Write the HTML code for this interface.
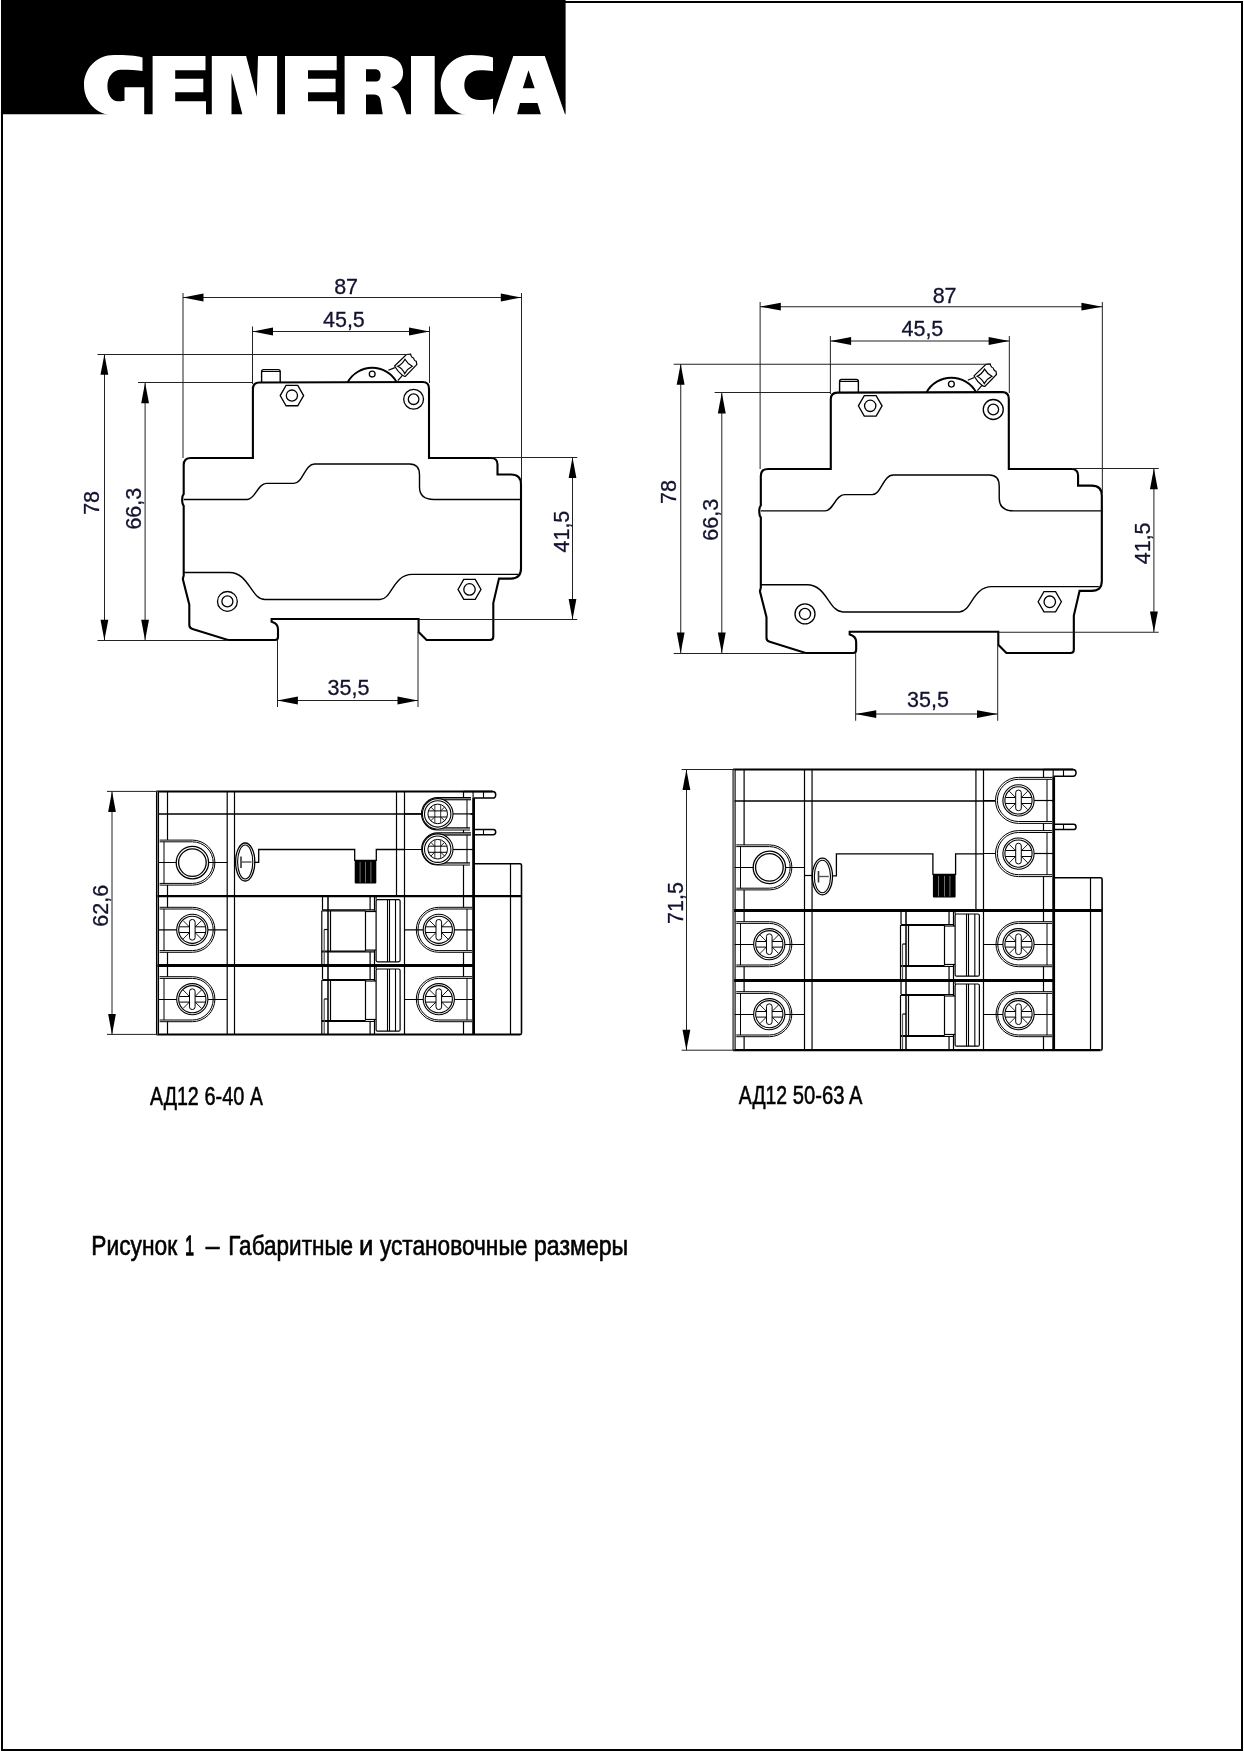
<!DOCTYPE html>
<html><head><meta charset="utf-8"><style>
html,body{margin:0;padding:0;background:#fff;}
body{width:1244px;height:1752px;overflow:hidden;position:relative;}
svg{position:absolute;left:0;top:0;will-change:transform;}
text{font-family:"Liberation Sans",sans-serif;}
</style></head><body>
<svg width="1244" height="1752" viewBox="0 0 1244 1752">

<rect x="1" y="0" width="564.6" height="114.5" fill="#000"/>
<g fill="#fff">
 <path d="M142.5,57.5 C136,55.5 126,55 114,55 C97,55 84,68 84,85 C84,102 97,115.3 114,115.3 L144.2,115.3 L144.2,87.2 L124.5,87.2 L124.5,100.8 C122,101.2 120,101.3 118,101.3 C112,101.3 107.4,95 107.4,86 C107.4,77 113,69.8 121,69.8 C130,69.8 137,70.3 142.5,71 Z"/>
 <path d="M152.6,56 L205.5,56 L205.5,70.3 L175.2,70.3 L175.2,78.8 L203.3,78.8 L203.3,92.3 L175.2,92.3 L175.2,101.3 L206,101.3 L206,116 L152.6,116 Z"/>
 <path d="M211.8,56 L246.1,56 L256.8,96.8 L258,56 L277.1,56 L277.1,116 L242.8,116 L231.5,73.1 L231.5,116 L211.8,116 Z"/>
 <path d="M285,56 L336.7,56 L336.7,70.3 L308,70.3 L308,78.8 L335.6,78.8 L335.6,92.3 L308,92.3 L308,101.3 L337,101.3 L337,116 L285,116 Z"/>
 <path d="M344.6,56 L383,56 C396,56 403.1,63 403.1,72.5 C403.1,80 399,85 391,87.2 C397,89 399.5,94 401.5,100 L407,116 L383,116 L380.5,100 C379.5,96 378,94.5 372,94.5 L366,94.5 L366,116 L344.6,116 Z M366,69.2 L366,81.6 L375,81.6 C379,81.6 380.6,79 380.6,75.4 C380.6,71.5 379,69.2 375,69.2 Z" fill-rule="evenodd"/>
 <rect x="411" y="56" width="23.7" height="60"/>
 <path d="M493,57.5 C487,55.5 480,54.9 471,54.9 C454,54.9 440.7,68 440.7,85 C440.7,102 454,115.3 471,115.3 L493,115.3 L493,98.8 C488,99.8 484,100.1 480,100.1 C470.5,100.1 464.3,94 464.3,85.2 C464.3,76.4 470.5,70.3 480,70.3 C485,70.3 489,70.6 493,71.3 Z"/>
 <path d="M493,116 L513.3,56 L544.8,56 L565.6,116 L541.4,116 L537.5,103 L520,103 L516.7,116 Z M528.5,70.3 L522.8,88.3 L534.7,88.3 Z" fill-rule="evenodd"/>
</g>
<rect x="0" y="114.5" width="600" height="10" fill="#fff"/>

<rect x="2" y="2" width="1240" height="1748" fill="none" stroke="#000" stroke-width="2"/>
<g id="side"><path d="M252.9,458 L252.9,389 Q252.9,382.6 259.3,382.5 L422.6,382.0 Q429,382.0 429,388.5 L429,458 L491,458 Q497.5,458 497.5,464.5 L497.5,474.5 L511,474.5 Q521,474.5 521,484.5 L521,568.6 Q521,578.6 511,578.6 L499,578.6 L493.3,603 L493.3,636.8 Q493.3,640 490,640 L426.6,640 L418.6,632 L418.6,619 L271.6,619 L271.6,621.7 Q278,623.5 278,629 L278,637 Q278,640 275,640 L228,640 L192.5,629 Q189.3,628 189.3,625 L189.3,604.7 L182.8,579 L183.7,575.5 L183.7,506 Q182,504 182.2,500 Q182,496 183.7,494 L183.7,465 Q183.7,458 190.9,458 Z" stroke="#000" stroke-width="2.1" fill="none" /><path d="M183.7,499.5 L247.2,499.5 C255.5,499.5 257.5,483.4 266.5,483.4 L293.8,483.4 C303,483.4 304.5,464 314.7,464 L409.8,464 Q419.5,464 419.5,475 L419.5,487 Q419.5,499.5 434,499.5 L521,499.5" stroke="#000" stroke-width="1.4" fill="none" /><path d="M183.7,572.5 L229.5,572.5 C249,572.5 251,599.5 265,599.5 L380,599.5 C392,599.5 393,574.4 412.2,574.4 L518,574.4" stroke="#000" stroke-width="1.4" fill="none" /><polygon points="303.6,395.6 297.75,405.73 286.05,405.73 280.2,395.6 286.05,385.47 297.75,385.47" fill="none" stroke="#000" stroke-width="1.3"/><circle cx="291.9" cy="395.6" r="5.6" stroke="#000" stroke-width="1.3" fill="none"/><polygon points="481,589.4 475.25,599.36 463.75,599.36 458,589.4 463.75,579.44 475.25,579.44" fill="none" stroke="#000" stroke-width="1.3"/><circle cx="469.5" cy="589.4" r="5.7" stroke="#000" stroke-width="1.3" fill="none"/><circle cx="413.6" cy="399.2" r="9.9" stroke="#000" stroke-width="1.3" fill="none"/><circle cx="413.6" cy="399.2" r="5.3" stroke="#000" stroke-width="1.3" fill="none"/><circle cx="227.4" cy="601.4" r="9.9" stroke="#000" stroke-width="1.3" fill="none"/><circle cx="227.4" cy="601.4" r="5.5" stroke="#000" stroke-width="1.3" fill="none"/><path d="M261.6,383 L261.6,371.5 Q261.6,369.6 263.6,369.6 L278.2,369.6 Q280.2,369.6 280.2,371.5 L280.2,382.6" stroke="#000" stroke-width="1.4" fill="none" /><line x1="261.8" y1="371.5" x2="280" y2="371.5" stroke="#000" stroke-width="1"/><path d="M347.6,382.3 A28.1,28.1 0 0 1 396.7,382.1" stroke="#000" stroke-width="1.9" fill="none" /><circle cx="372.2" cy="374.1" r="2.9" stroke="#000" stroke-width="1.3" fill="none"/><path d="M394.6,366 L406.4,354.5 L410.6,354.2 Q411,356.6 412.2,357.4 Q413.6,357.6 413.9,359 Q414.2,360.9 416.3,361.4 L416.8,364.6 L405.3,376.4 Q403.8,376.6 402.4,375.2 Q397.6,371.6 394.6,366 Z" stroke="#000" stroke-width="1.2" fill="#fff" /><path d="M388.4,370.3 L394.8,367.6 M402.4,375.3 L397.9,380.6" stroke="#000" stroke-width="1.2" fill="none" /><path d="M397.7,366.3 Q402,364.6 405,359.3 Q407.6,364 412.3,366.3 Q407.6,368.6 404.7,373.6 Q402.4,368.6 397.7,366.3 Z" stroke="#000" stroke-width="1.2" fill="none" /><line x1="183" y1="293" x2="183" y2="458" stroke="#222" stroke-width="1"/><line x1="521.5" y1="293" x2="521.5" y2="482" stroke="#222" stroke-width="1"/><line x1="183" y1="297.5" x2="521.3" y2="297.5" stroke="#222" stroke-width="1"/><polygon points="183,297.5 203.5,293.6 203.5,301.4" fill="#000" stroke="none" stroke-width="1"/><polygon points="521.3,297.5 500.8,301.4 500.8,293.6" fill="#000" stroke="none" stroke-width="1"/><line x1="252.5" y1="326.5" x2="252.5" y2="384" stroke="#222" stroke-width="1"/><line x1="429.5" y1="326.5" x2="429.5" y2="383" stroke="#222" stroke-width="1"/><line x1="252.5" y1="331.5" x2="429.5" y2="331.5" stroke="#222" stroke-width="1"/><polygon points="252.5,331.5 273,327.6 273,335.4" fill="#000" stroke="none" stroke-width="1"/><polygon points="429.5,331.5 409,335.4 409,327.6" fill="#000" stroke="none" stroke-width="1"/><line x1="97.5" y1="354.5" x2="410" y2="354.5" stroke="#222" stroke-width="1"/><line x1="97.5" y1="640.5" x2="228" y2="640.5" stroke="#222" stroke-width="1"/><line x1="104.5" y1="354.3" x2="104.5" y2="640.2" stroke="#222" stroke-width="1"/><polygon points="104.4,354.3 108.3,374.8 100.5,374.8" fill="#000" stroke="none" stroke-width="1"/><polygon points="104.4,640.2 100.5,619.7 108.3,619.7" fill="#000" stroke="none" stroke-width="1"/><line x1="138" y1="382.5" x2="253" y2="382.5" stroke="#222" stroke-width="1"/><line x1="145.1" y1="382.7" x2="145.1" y2="640.2" stroke="#222" stroke-width="1"/><polygon points="145.1,382.7 149,403.2 141.2,403.2" fill="#000" stroke="none" stroke-width="1"/><polygon points="145.1,640.2 141.2,619.7 149,619.7" fill="#000" stroke="none" stroke-width="1"/><line x1="491.8" y1="457.5" x2="577.3" y2="457.5" stroke="#222" stroke-width="1"/><line x1="418.6" y1="619.5" x2="577.3" y2="619.5" stroke="#222" stroke-width="1"/><line x1="572.5" y1="457.5" x2="572.5" y2="619.4" stroke="#222" stroke-width="1"/><polygon points="572.5,457.5 576.4,478 568.6,478" fill="#000" stroke="none" stroke-width="1"/><polygon points="572.5,619.4 568.6,598.9 576.4,598.9" fill="#000" stroke="none" stroke-width="1"/><line x1="277.5" y1="640" x2="277.5" y2="707" stroke="#222" stroke-width="1"/><line x1="418" y1="632" x2="418" y2="707" stroke="#222" stroke-width="1"/><line x1="277.4" y1="700.5" x2="418" y2="700.5" stroke="#222" stroke-width="1"/><polygon points="277.4,700.5 297.9,696.6 297.9,704.4" fill="#000" stroke="none" stroke-width="1"/><polygon points="418,700.5 397.5,704.4 397.5,696.6" fill="#000" stroke="none" stroke-width="1"/></g><use href="#side" transform="translate(575.1,5.9) scale(1.011)"/><text x="346.1" y="293.9" text-anchor="middle" font-size="21.5" fill="#121230" stroke="#121230" stroke-width="0.3">87</text><text x="343.9" y="327.1" text-anchor="middle" font-size="21.5" fill="#121230" stroke="#121230" stroke-width="0.3">45,5</text><text x="348.5" y="695.3" text-anchor="middle" font-size="21.5" fill="#121230" stroke="#121230" stroke-width="0.3">35,5</text><text transform="translate(99.1,502.9) rotate(-90)" text-anchor="middle" font-size="21.5" fill="#121230" stroke="#121230" stroke-width="0.3">78</text><text transform="translate(140.9,508.7) rotate(-90)" text-anchor="middle" font-size="21.5" fill="#121230" stroke="#121230" stroke-width="0.3">66,3</text><text transform="translate(568.5,531.6) rotate(-90)" text-anchor="middle" font-size="21.5" fill="#121230" stroke="#121230" stroke-width="0.3">41,5</text><text x="944.6" y="302.7" text-anchor="middle" font-size="21.5" fill="#121230" stroke="#121230" stroke-width="0.3">87</text><text x="922.4" y="336.3" text-anchor="middle" font-size="21.5" fill="#121230" stroke="#121230" stroke-width="0.3">45,5</text><text x="928" y="707.4" text-anchor="middle" font-size="21.5" fill="#121230" stroke="#121230" stroke-width="0.3">35,5</text><text transform="translate(676.4,492.1) rotate(-90)" text-anchor="middle" font-size="21.5" fill="#121230" stroke="#121230" stroke-width="0.3">78</text><text transform="translate(717.5,519.8) rotate(-90)" text-anchor="middle" font-size="21.5" fill="#121230" stroke="#121230" stroke-width="0.3">66,3</text><text transform="translate(1149.85,543.35) rotate(-90)" text-anchor="middle" font-size="21.5" fill="#121230" stroke="#121230" stroke-width="0.3">41,5</text><line x1="167.5" y1="791.4" x2="167.5" y2="1034.6" stroke="#000" stroke-width="1.2"/><line x1="227.2" y1="791.4" x2="227.2" y2="1034.6" stroke="#000" stroke-width="1.2"/><line x1="234.5" y1="791.4" x2="234.5" y2="1034.6" stroke="#000" stroke-width="1.2"/><line x1="404.5" y1="791.4" x2="404.5" y2="1034.6" stroke="#000" stroke-width="1.2"/><line x1="463.5" y1="791.4" x2="463.5" y2="1034.6" stroke="#000" stroke-width="1.2"/><line x1="396.5" y1="791.4" x2="396.5" y2="896.1" stroke="#000" stroke-width="1.2"/><line x1="157.5" y1="814" x2="473.6" y2="814" stroke="#000" stroke-width="1.3"/><path d="M473.6,863.8 L520,863.8 Q521.5,863.8 521.5,865.3 L521.5,1033.1 Q521.5,1034.6 520,1034.6" stroke="#000" stroke-width="1.6" fill="none" /><line x1="510.5" y1="863.8" x2="510.5" y2="1034.6" stroke="#000" stroke-width="1.2"/><path d="M463.6,791.4 L492.7,791.4 Q495.7,791.4 495.7,794.7 Q495.7,798.1 492.7,798.1 L473.6,798.1" stroke="#000" stroke-width="1.5" fill="none" /><line x1="483.5" y1="791.4" x2="483.5" y2="798.1" stroke="#000" stroke-width="1.1"/><line x1="473.1" y1="791.4" x2="473.1" y2="798.1" stroke="#000" stroke-width="1.1"/><path d="M473.6,829.5 L493.2,829.5 Q495.7,829.5 495.7,832.1 Q495.7,834.7 493.2,834.7 L473.6,834.7" stroke="#000" stroke-width="1.5" fill="none" /><line x1="483.5" y1="829.5" x2="483.5" y2="834.7" stroke="#000" stroke-width="1.1"/><line x1="404.4" y1="813.9" x2="473.6" y2="813.9" stroke="#000" stroke-width="1.2"/><path d="M471,797.6 L437.7,797.6 A16.2,16.2 0 0 0 437.7,830 L470,830" stroke="#000" stroke-width="1.1" fill="#fff" /><rect x="437.7" y="798.1" width="33.3" height="1.7" rx="0" stroke="#000" stroke-width="0" fill="#777"/><rect x="437.7" y="827.8" width="32.3" height="1.7" rx="0" stroke="#000" stroke-width="0" fill="#999"/><path d="M471,799.8 L437.7,799.8 M470,827.8 L437.7,827.8" stroke="#000" stroke-width="1.0" fill="none" /><line x1="467" y1="799.6" x2="467" y2="828" stroke="#000" stroke-width="1"/><line x1="452.7" y1="813.9" x2="473.6" y2="813.9" stroke="#000" stroke-width="1.2"/><circle cx="437.7" cy="813.9" r="15.3" stroke="#000" stroke-width="1.1" fill="#fff"/><circle cx="437.7" cy="813.9" r="13.2" stroke="#000" stroke-width="1.1" fill="none"/><circle cx="437.7" cy="813.9" r="9.8" stroke="#000" stroke-width="1.0" fill="none"/><line x1="440.17" y1="816.37" x2="444.63" y2="820.83" stroke="#000" stroke-width="0.9"/><line x1="435.23" y1="816.37" x2="430.77" y2="820.83" stroke="#000" stroke-width="0.9"/><line x1="435.23" y1="811.43" x2="430.77" y2="806.97" stroke="#000" stroke-width="0.9"/><line x1="440.17" y1="811.43" x2="444.63" y2="806.97" stroke="#000" stroke-width="0.9"/><line x1="434.8" y1="804.5" x2="434.8" y2="823.3" stroke="#555" stroke-width="1.2"/><line x1="440.6" y1="804.5" x2="440.6" y2="823.3" stroke="#555" stroke-width="1.2"/><line x1="428.3" y1="810.9" x2="447.1" y2="810.9" stroke="#000" stroke-width="1.0"/><line x1="428.3" y1="817" x2="447.1" y2="817" stroke="#000" stroke-width="1.0"/><line x1="404.4" y1="849.5" x2="473.6" y2="849.5" stroke="#000" stroke-width="1.2"/><path d="M471,832.9 L437.7,832.9 A16.05,16.05 0 0 0 437.7,865 L470,865" stroke="#000" stroke-width="1.1" fill="#fff" /><rect x="437.7" y="833.4" width="33.3" height="1.7" rx="0" stroke="#000" stroke-width="0" fill="#777"/><rect x="437.7" y="862.8" width="32.3" height="1.7" rx="0" stroke="#000" stroke-width="0" fill="#999"/><path d="M471,835.1 L437.7,835.1 M470,862.8 L437.7,862.8" stroke="#000" stroke-width="1.0" fill="none" /><line x1="467" y1="834.9" x2="467" y2="863" stroke="#000" stroke-width="1"/><line x1="452.7" y1="849.5" x2="473.6" y2="849.5" stroke="#000" stroke-width="1.2"/><circle cx="437.7" cy="849.2" r="15.3" stroke="#000" stroke-width="1.1" fill="#fff"/><circle cx="437.7" cy="849.2" r="13.2" stroke="#000" stroke-width="1.1" fill="none"/><circle cx="437.7" cy="849.2" r="9.8" stroke="#000" stroke-width="1.0" fill="none"/><line x1="440.17" y1="851.67" x2="444.63" y2="856.13" stroke="#000" stroke-width="0.9"/><line x1="435.23" y1="851.67" x2="430.77" y2="856.13" stroke="#000" stroke-width="0.9"/><line x1="435.23" y1="846.73" x2="430.77" y2="842.27" stroke="#000" stroke-width="0.9"/><line x1="440.17" y1="846.73" x2="444.63" y2="842.27" stroke="#000" stroke-width="0.9"/><line x1="434.8" y1="839.8" x2="434.8" y2="858.6" stroke="#555" stroke-width="1.2"/><line x1="440.6" y1="839.8" x2="440.6" y2="858.6" stroke="#555" stroke-width="1.2"/><line x1="428.3" y1="846.2" x2="447.1" y2="846.2" stroke="#000" stroke-width="1.0"/><line x1="428.3" y1="852.3" x2="447.1" y2="852.3" stroke="#000" stroke-width="1.0"/><path d="M159.6,840.1 L192.4,840.1 A22.5,22.5 0 0 1 192.4,885.1 L159.6,885.1" stroke="#000" stroke-width="1.0" fill="#fff" /><path d="M159.6,841.8 L192.4,841.8 A20.8,20.8 0 0 1 192.4,883.4 L159.6,883.4" stroke="#000" stroke-width="1.0" fill="none" /><line x1="164" y1="841.7" x2="164" y2="883.5" stroke="#000" stroke-width="1"/><line x1="157.5" y1="862.5" x2="227.2" y2="862.5" stroke="#000" stroke-width="1.2"/><circle cx="192.4" cy="862.6" r="16.2" stroke="#000" stroke-width="1.3" fill="#fff"/><circle cx="192.4" cy="862.6" r="13.8" stroke="#000" stroke-width="1.3" fill="none"/><ellipse cx="245.2" cy="862" rx="9.6" ry="19" stroke="#000" stroke-width="1.3" fill="#fff"/><ellipse cx="245.2" cy="862" rx="7.6" ry="17" stroke="#000" stroke-width="1.1" fill="none"/><line x1="241" y1="856.5" x2="241" y2="868" stroke="#333" stroke-width="1.6"/><line x1="241.3" y1="862" x2="251.6" y2="862" stroke="#555" stroke-width="1.4"/><line x1="234.6" y1="862.5" x2="235.6" y2="862.5" stroke="#000" stroke-width="1.2"/><path d="M254.8,862.3 L258.7,862.3 L258.7,849.5 L354.7,849.5 L354.7,860.4 L376.3,860.4 L376.3,849.5 L404.4,849.5" stroke="#000" stroke-width="1.3" fill="none" /><rect x="354.7" y="860.4" width="21.6" height="23.1" rx="1" stroke="#000" stroke-width="0" fill="#000"/><line x1="360.1" y1="861.9" x2="360.1" y2="882.5" stroke="#888" stroke-width="0.8"/><line x1="365.5" y1="861.9" x2="365.5" y2="882.5" stroke="#888" stroke-width="0.8"/><line x1="370.9" y1="861.9" x2="370.9" y2="882.5" stroke="#888" stroke-width="0.8"/><path d="M159.6,907.3 L192.4,907.3 A22.5,22.5 0 0 1 192.4,952.3 L159.6,952.3" stroke="#000" stroke-width="1.0" fill="#fff" /><path d="M159.6,909 L192.4,909 A20.8,20.8 0 0 1 192.4,950.6 L159.6,950.6" stroke="#000" stroke-width="1.0" fill="none" /><line x1="164" y1="908.9" x2="164" y2="950.7" stroke="#000" stroke-width="1"/><path d="M472,907.3 L438.8,907.3 A22.5,22.5 0 0 0 438.8,952.3 L472,952.3" stroke="#000" stroke-width="1.0" fill="#fff" /><path d="M472,909 L438.8,909 A20.8,20.8 0 0 0 438.8,950.6 L472,950.6" stroke="#000" stroke-width="1.0" fill="none" /><line x1="467" y1="908.9" x2="467" y2="950.7" stroke="#000" stroke-width="1"/><line x1="157.5" y1="929.8" x2="227.2" y2="929.8" stroke="#000" stroke-width="1.2"/><line x1="404.4" y1="929.8" x2="473.6" y2="929.8" stroke="#000" stroke-width="1.2"/><circle cx="192.3" cy="929.8" r="15.6" stroke="#000" stroke-width="1.1" fill="#fff"/><circle cx="192.3" cy="929.8" r="13.6" stroke="#000" stroke-width="1.1" fill="none"/><line x1="195.13" y1="932.63" x2="201.49" y2="938.99" stroke="#000" stroke-width="0.9"/><line x1="189.47" y1="932.63" x2="183.11" y2="938.99" stroke="#000" stroke-width="0.9"/><line x1="189.47" y1="926.97" x2="183.11" y2="920.61" stroke="#000" stroke-width="0.9"/><line x1="195.13" y1="926.97" x2="201.49" y2="920.61" stroke="#000" stroke-width="0.9"/><line x1="179.3" y1="926.8" x2="205.3" y2="926.8" stroke="#000" stroke-width="1.0"/><line x1="179.3" y1="932.5" x2="205.3" y2="932.5" stroke="#000" stroke-width="1.0"/><rect x="189.5" y="919.5" width="5.6" height="20.6" rx="2.6" stroke="#000" stroke-width="1.0" fill="#fff"/><circle cx="438.8" cy="929.8" r="15.6" stroke="#000" stroke-width="1.1" fill="#fff"/><circle cx="438.8" cy="929.8" r="13.6" stroke="#000" stroke-width="1.1" fill="none"/><line x1="441.63" y1="932.63" x2="447.99" y2="938.99" stroke="#000" stroke-width="0.9"/><line x1="435.97" y1="932.63" x2="429.61" y2="938.99" stroke="#000" stroke-width="0.9"/><line x1="435.97" y1="926.97" x2="429.61" y2="920.61" stroke="#000" stroke-width="0.9"/><line x1="441.63" y1="926.97" x2="447.99" y2="920.61" stroke="#000" stroke-width="0.9"/><line x1="425.8" y1="926.8" x2="451.8" y2="926.8" stroke="#000" stroke-width="1.0"/><line x1="425.8" y1="932.5" x2="451.8" y2="932.5" stroke="#000" stroke-width="1.0"/><rect x="436" y="919.5" width="5.6" height="20.6" rx="2.6" stroke="#000" stroke-width="1.0" fill="#fff"/><line x1="321.8" y1="910.8" x2="321.8" y2="965.5" stroke="#000" stroke-width="1.2"/><line x1="322.5" y1="896.1" x2="322.5" y2="909.9" stroke="#000" stroke-width="1.2"/><line x1="328" y1="896.1" x2="328" y2="965.5" stroke="#000" stroke-width="1.5"/><line x1="330.5" y1="910.8" x2="330.5" y2="951.1" stroke="#000" stroke-width="1.2"/><line x1="365.5" y1="910.8" x2="365.5" y2="951.1" stroke="#000" stroke-width="1.2"/><line x1="370.1" y1="896.1" x2="370.1" y2="909.9" stroke="#000" stroke-width="1.2"/><line x1="370.1" y1="951.9" x2="370.1" y2="965.5" stroke="#000" stroke-width="1.2"/><line x1="374.5" y1="896.1" x2="374.5" y2="911.6" stroke="#000" stroke-width="1.2"/><line x1="374.5" y1="950.1" x2="374.5" y2="965.5" stroke="#000" stroke-width="1.2"/><line x1="322.5" y1="909.9" x2="374.6" y2="909.9" stroke="#000" stroke-width="1.2"/><line x1="321.8" y1="910.9" x2="365.4" y2="910.9" stroke="#000" stroke-width="1.2"/><line x1="365.4" y1="911.5" x2="376.1" y2="911.5" stroke="#000" stroke-width="1.2"/><line x1="365.4" y1="950.1" x2="376.1" y2="950.1" stroke="#000" stroke-width="1.2"/><line x1="321.8" y1="951.1" x2="365.4" y2="951.1" stroke="#000" stroke-width="1.2"/><line x1="321.8" y1="951.9" x2="374.6" y2="951.9" stroke="#000" stroke-width="1.2"/><line x1="324.2" y1="929.6" x2="324.2" y2="965.5" stroke="#555" stroke-width="1.2"/><line x1="324.2" y1="929.5" x2="327.8" y2="929.5" stroke="#000" stroke-width="1.2"/><rect x="376.1" y="899.6" width="24" height="62.2" rx="1.5" stroke="#000" stroke-width="1.2" fill="none"/><line x1="387.5" y1="899.6" x2="387.5" y2="961.8" stroke="#000" stroke-width="1.1"/><line x1="389.5" y1="899.6" x2="389.5" y2="961.8" stroke="#000" stroke-width="1.1"/><line x1="395.5" y1="899.6" x2="395.5" y2="961.8" stroke="#000" stroke-width="1.1"/><line x1="376.1" y1="896.1" x2="376.1" y2="899.6" stroke="#000" stroke-width="1.1"/><path d="M159.6,976.7 L192.4,976.7 A22.5,22.5 0 0 1 192.4,1021.7 L159.6,1021.7" stroke="#000" stroke-width="1.0" fill="#fff" /><path d="M159.6,978.4 L192.4,978.4 A20.8,20.8 0 0 1 192.4,1020 L159.6,1020" stroke="#000" stroke-width="1.0" fill="none" /><line x1="164" y1="978.3" x2="164" y2="1020.1" stroke="#000" stroke-width="1"/><path d="M472,976.7 L438.8,976.7 A22.5,22.5 0 0 0 438.8,1021.7 L472,1021.7" stroke="#000" stroke-width="1.0" fill="#fff" /><path d="M472,978.4 L438.8,978.4 A20.8,20.8 0 0 0 438.8,1020 L472,1020" stroke="#000" stroke-width="1.0" fill="none" /><line x1="467" y1="978.3" x2="467" y2="1020.1" stroke="#000" stroke-width="1"/><line x1="157.5" y1="999.5" x2="227.2" y2="999.5" stroke="#000" stroke-width="1.2"/><line x1="404.4" y1="999.5" x2="473.6" y2="999.5" stroke="#000" stroke-width="1.2"/><circle cx="192.3" cy="999.2" r="15.6" stroke="#000" stroke-width="1.1" fill="#fff"/><circle cx="192.3" cy="999.2" r="13.6" stroke="#000" stroke-width="1.1" fill="none"/><line x1="195.13" y1="1002.03" x2="201.49" y2="1008.39" stroke="#000" stroke-width="0.9"/><line x1="189.47" y1="1002.03" x2="183.11" y2="1008.39" stroke="#000" stroke-width="0.9"/><line x1="189.47" y1="996.37" x2="183.11" y2="990.01" stroke="#000" stroke-width="0.9"/><line x1="195.13" y1="996.37" x2="201.49" y2="990.01" stroke="#000" stroke-width="0.9"/><line x1="179.3" y1="996.5" x2="205.3" y2="996.5" stroke="#000" stroke-width="1.0"/><line x1="179.3" y1="1002.1" x2="205.3" y2="1002.1" stroke="#000" stroke-width="1.0"/><rect x="189.5" y="988.9" width="5.6" height="20.6" rx="2.6" stroke="#000" stroke-width="1.0" fill="#fff"/><circle cx="438.8" cy="999.2" r="15.6" stroke="#000" stroke-width="1.1" fill="#fff"/><circle cx="438.8" cy="999.2" r="13.6" stroke="#000" stroke-width="1.1" fill="none"/><line x1="441.63" y1="1002.03" x2="447.99" y2="1008.39" stroke="#000" stroke-width="0.9"/><line x1="435.97" y1="1002.03" x2="429.61" y2="1008.39" stroke="#000" stroke-width="0.9"/><line x1="435.97" y1="996.37" x2="429.61" y2="990.01" stroke="#000" stroke-width="0.9"/><line x1="441.63" y1="996.37" x2="447.99" y2="990.01" stroke="#000" stroke-width="0.9"/><line x1="425.8" y1="996.5" x2="451.8" y2="996.5" stroke="#000" stroke-width="1.0"/><line x1="425.8" y1="1002.1" x2="451.8" y2="1002.1" stroke="#000" stroke-width="1.0"/><rect x="436" y="988.9" width="5.6" height="20.6" rx="2.6" stroke="#000" stroke-width="1.0" fill="#fff"/><line x1="321.8" y1="980.2" x2="321.8" y2="1034.6" stroke="#000" stroke-width="1.2"/><line x1="322.5" y1="965.5" x2="322.5" y2="979.3" stroke="#000" stroke-width="1.2"/><line x1="328" y1="965.5" x2="328" y2="1034.6" stroke="#000" stroke-width="1.5"/><line x1="330.5" y1="980.2" x2="330.5" y2="1020.5" stroke="#000" stroke-width="1.2"/><line x1="365.5" y1="980.2" x2="365.5" y2="1020.5" stroke="#000" stroke-width="1.2"/><line x1="370.1" y1="965.5" x2="370.1" y2="979.3" stroke="#000" stroke-width="1.2"/><line x1="370.1" y1="1021.3" x2="370.1" y2="1034.6" stroke="#000" stroke-width="1.2"/><line x1="374.5" y1="965.5" x2="374.5" y2="981" stroke="#000" stroke-width="1.2"/><line x1="374.5" y1="1019.5" x2="374.5" y2="1034.6" stroke="#000" stroke-width="1.2"/><line x1="322.5" y1="979.5" x2="374.6" y2="979.5" stroke="#000" stroke-width="1.2"/><line x1="321.8" y1="980.5" x2="365.4" y2="980.5" stroke="#000" stroke-width="1.2"/><line x1="365.4" y1="981" x2="376.1" y2="981" stroke="#000" stroke-width="1.2"/><line x1="365.4" y1="1019.5" x2="376.1" y2="1019.5" stroke="#000" stroke-width="1.2"/><line x1="321.8" y1="1020.5" x2="365.4" y2="1020.5" stroke="#000" stroke-width="1.2"/><line x1="321.8" y1="1021.5" x2="374.6" y2="1021.5" stroke="#000" stroke-width="1.2"/><line x1="324.2" y1="999" x2="324.2" y2="1034.6" stroke="#555" stroke-width="1.2"/><line x1="324.2" y1="999" x2="327.8" y2="999" stroke="#000" stroke-width="1.2"/><rect x="376.1" y="969" width="24" height="62.2" rx="1.5" stroke="#000" stroke-width="1.2" fill="none"/><line x1="387.5" y1="969" x2="387.5" y2="1031.2" stroke="#000" stroke-width="1.1"/><line x1="389.5" y1="969" x2="389.5" y2="1031.2" stroke="#000" stroke-width="1.1"/><line x1="395.5" y1="969" x2="395.5" y2="1031.2" stroke="#000" stroke-width="1.1"/><line x1="376.1" y1="965.5" x2="376.1" y2="969" stroke="#000" stroke-width="1.1"/><line x1="156.5" y1="791.4" x2="492.7" y2="791.4" stroke="#000" stroke-width="2"/><line x1="156.5" y1="1034.6" x2="520" y2="1034.6" stroke="#000" stroke-width="2"/><line x1="156.5" y1="791.4" x2="156.5" y2="1034.6" stroke="#000" stroke-width="1.1"/><line x1="158.5" y1="791.4" x2="158.5" y2="1034.6" stroke="#000" stroke-width="1.1"/><line x1="157.5" y1="791.4" x2="157.5" y2="1034.6" stroke="#777" stroke-width="1"/><line x1="157.5" y1="896.1" x2="521.5" y2="896.1" stroke="#000" stroke-width="2.4"/><line x1="157.5" y1="965.5" x2="473.6" y2="965.5" stroke="#000" stroke-width="2.8"/><line x1="473.6" y1="798.1" x2="473.6" y2="1034.6" stroke="#000" stroke-width="2.8"/><line x1="744.11" y1="769.5" x2="744.11" y2="1050.2" stroke="#000" stroke-width="1.2"/><line x1="804.5" y1="769.5" x2="804.5" y2="1050.2" stroke="#000" stroke-width="1.2"/><line x1="812.05" y1="769.5" x2="812.05" y2="1050.2" stroke="#000" stroke-width="1.2"/><line x1="983.5" y1="769.5" x2="983.5" y2="1050.2" stroke="#000" stroke-width="1.2"/><line x1="1043.5" y1="769.5" x2="1043.5" y2="1050.2" stroke="#000" stroke-width="1.2"/><line x1="975.93" y1="769.5" x2="975.93" y2="910.5" stroke="#000" stroke-width="1.2"/><line x1="734.1" y1="801" x2="1053.68" y2="801" stroke="#000" stroke-width="1.3"/><path d="M1053.68,877.7 L1100.6,877.7 Q1102.1,877.7 1102.1,879.2 L1102.1,1048.7 Q1102.1,1050.2 1100.6,1050.2" stroke="#000" stroke-width="1.6" fill="none" /><line x1="1090.5" y1="877.7" x2="1090.5" y2="1050.2" stroke="#000" stroke-width="1.2"/><path d="M1043.57,769.5 L1073.02,769.5 Q1076.02,769.5 1076.02,772.8 Q1076.02,776.2 1073.02,776.2 L1053.68,776.2" stroke="#000" stroke-width="1.5" fill="none" /><line x1="1063.5" y1="769.5" x2="1063.5" y2="776.2" stroke="#000" stroke-width="1.1"/><line x1="1053.17" y1="769.5" x2="1053.17" y2="776.2" stroke="#000" stroke-width="1.1"/><path d="M1053.68,824.3 L1073.52,824.3 Q1076.02,824.3 1076.02,826.9 Q1076.02,829.5 1073.52,829.5 L1053.68,829.5" stroke="#000" stroke-width="1.5" fill="none" /><line x1="1063.5" y1="824.3" x2="1063.5" y2="829.5" stroke="#000" stroke-width="1.1"/><line x1="983.71" y1="800.5" x2="1053.68" y2="800.5" stroke="#000" stroke-width="1.2"/><path d="M1052.06,777.4 L1018.49,777.4 A23.0,23.0 0 0 0 1018.49,823.4 L1052.06,823.4" stroke="#000" stroke-width="1.0" fill="#fff" /><path d="M1052.06,779.3 L1018.49,779.3 A21.1,21.1 0 0 0 1018.49,821.5 L1052.06,821.5" stroke="#000" stroke-width="1.0" fill="none" /><line x1="1047" y1="779.4" x2="1047" y2="821.4" stroke="#000" stroke-width="1"/><line x1="1034.09" y1="800.5" x2="1053.68" y2="800.5" stroke="#000" stroke-width="1.2"/><circle cx="1018.49" cy="800.4" r="15.6" stroke="#000" stroke-width="1.1" fill="#fff"/><circle cx="1018.49" cy="800.4" r="13.6" stroke="#000" stroke-width="1.1" fill="none"/><line x1="1021.32" y1="803.23" x2="1027.69" y2="809.59" stroke="#000" stroke-width="0.9"/><line x1="1015.66" y1="803.23" x2="1009.3" y2="809.59" stroke="#000" stroke-width="0.9"/><line x1="1015.66" y1="797.57" x2="1009.3" y2="791.21" stroke="#000" stroke-width="0.9"/><line x1="1021.32" y1="797.57" x2="1027.69" y2="791.21" stroke="#000" stroke-width="0.9"/><line x1="1005.49" y1="797.5" x2="1031.49" y2="797.5" stroke="#000" stroke-width="1.0"/><line x1="1005.49" y1="803.5" x2="1031.49" y2="803.5" stroke="#000" stroke-width="1.0"/><rect x="1015.69" y="790.1" width="5.6" height="20.6" rx="2.6" stroke="#000" stroke-width="1.0" fill="#fff"/><line x1="983.71" y1="853.5" x2="1053.68" y2="853.5" stroke="#000" stroke-width="1.2"/><path d="M1052.06,830.6 L1018.49,830.6 A23.0,23.0 0 0 0 1018.49,876.6 L1052.06,876.6" stroke="#000" stroke-width="1.0" fill="#fff" /><path d="M1052.06,832.5 L1018.49,832.5 A21.1,21.1 0 0 0 1018.49,874.7 L1052.06,874.7" stroke="#000" stroke-width="1.0" fill="none" /><line x1="1047" y1="832.6" x2="1047" y2="874.6" stroke="#000" stroke-width="1"/><line x1="1034.09" y1="853.5" x2="1053.68" y2="853.5" stroke="#000" stroke-width="1.2"/><circle cx="1018.49" cy="853.6" r="15.6" stroke="#000" stroke-width="1.1" fill="#fff"/><circle cx="1018.49" cy="853.6" r="13.6" stroke="#000" stroke-width="1.1" fill="none"/><line x1="1021.32" y1="856.43" x2="1027.69" y2="862.79" stroke="#000" stroke-width="0.9"/><line x1="1015.66" y1="856.43" x2="1009.3" y2="862.79" stroke="#000" stroke-width="0.9"/><line x1="1015.66" y1="850.77" x2="1009.3" y2="844.41" stroke="#000" stroke-width="0.9"/><line x1="1021.32" y1="850.77" x2="1027.69" y2="844.41" stroke="#000" stroke-width="0.9"/><line x1="1005.49" y1="850.5" x2="1031.49" y2="850.5" stroke="#000" stroke-width="1.0"/><line x1="1005.49" y1="856.5" x2="1031.49" y2="856.5" stroke="#000" stroke-width="1.0"/><rect x="1015.69" y="843.3" width="5.6" height="20.6" rx="2.6" stroke="#000" stroke-width="1.0" fill="#fff"/><path d="M736.22,844.9 L769.38,844.9 A22.5,22.5 0 0 1 769.38,889.9 L736.22,889.9" stroke="#000" stroke-width="1.0" fill="#fff" /><path d="M736.22,846.6 L769.38,846.6 A20.8,20.8 0 0 1 769.38,888.2 L736.22,888.2" stroke="#000" stroke-width="1.0" fill="none" /><line x1="740.5" y1="846.5" x2="740.5" y2="888.3" stroke="#000" stroke-width="1"/><line x1="734.1" y1="867.5" x2="804.57" y2="867.5" stroke="#000" stroke-width="1.2"/><circle cx="769.38" cy="867.4" r="16.2" stroke="#000" stroke-width="1.3" fill="#fff"/><circle cx="769.38" cy="867.4" r="13.8" stroke="#000" stroke-width="1.3" fill="none"/><ellipse cx="822.4" cy="876.5" rx="10.1" ry="18.3" stroke="#000" stroke-width="1.3" fill="#fff"/><ellipse cx="822.4" cy="876.5" rx="8.1" ry="16.3" stroke="#000" stroke-width="1.1" fill="none"/><line x1="818.5" y1="871" x2="818.5" y2="882.5" stroke="#333" stroke-width="1.6"/><line x1="818.5" y1="876.5" x2="828.8" y2="876.5" stroke="#555" stroke-width="1.4"/><line x1="804.57" y1="875.5" x2="812.3" y2="875.5" stroke="#000" stroke-width="1.2"/><path d="M832.5,875.8 L836.4,875.8 L836.4,853.8 L932.9,853.8 L932.9,874.4 L955.6,874.4 L955.6,853.8 L983.71,853.8" stroke="#000" stroke-width="1.3" fill="none" /><rect x="932.9" y="874.4" width="22.7" height="23.1" rx="1" stroke="#000" stroke-width="0" fill="#000"/><line x1="938.5" y1="875.9" x2="938.5" y2="896.5" stroke="#888" stroke-width="0.8"/><line x1="944.5" y1="875.9" x2="944.5" y2="896.5" stroke="#888" stroke-width="0.8"/><line x1="949.92" y1="875.9" x2="949.92" y2="896.5" stroke="#888" stroke-width="0.8"/><path d="M736.22,921.7 L769.38,921.7 A22.5,22.5 0 0 1 769.38,966.7 L736.22,966.7" stroke="#000" stroke-width="1.0" fill="#fff" /><path d="M736.22,923.4 L769.38,923.4 A20.8,20.8 0 0 1 769.38,965 L736.22,965" stroke="#000" stroke-width="1.0" fill="none" /><line x1="740.5" y1="923.3" x2="740.5" y2="965.1" stroke="#000" stroke-width="1"/><path d="M1052.06,921.7 L1018.49,921.7 A22.5,22.5 0 0 0 1018.49,966.7 L1052.06,966.7" stroke="#000" stroke-width="1.0" fill="#fff" /><path d="M1052.06,923.4 L1018.49,923.4 A20.8,20.8 0 0 0 1018.49,965 L1052.06,965" stroke="#000" stroke-width="1.0" fill="none" /><line x1="1047" y1="923.3" x2="1047" y2="965.1" stroke="#000" stroke-width="1"/><line x1="734.1" y1="944.5" x2="804.57" y2="944.5" stroke="#000" stroke-width="1.2"/><line x1="983.71" y1="944.5" x2="1053.68" y2="944.5" stroke="#000" stroke-width="1.2"/><circle cx="769.28" cy="944.2" r="15.6" stroke="#000" stroke-width="1.1" fill="#fff"/><circle cx="769.28" cy="944.2" r="13.6" stroke="#000" stroke-width="1.1" fill="none"/><line x1="772.11" y1="947.03" x2="778.47" y2="953.39" stroke="#000" stroke-width="0.9"/><line x1="766.45" y1="947.03" x2="760.09" y2="953.39" stroke="#000" stroke-width="0.9"/><line x1="766.45" y1="941.37" x2="760.09" y2="935.01" stroke="#000" stroke-width="0.9"/><line x1="772.11" y1="941.37" x2="778.47" y2="935.01" stroke="#000" stroke-width="0.9"/><line x1="756.28" y1="941.5" x2="782.28" y2="941.5" stroke="#000" stroke-width="1.0"/><line x1="756.28" y1="947.1" x2="782.28" y2="947.1" stroke="#000" stroke-width="1.0"/><rect x="766.48" y="933.9" width="5.6" height="20.6" rx="2.6" stroke="#000" stroke-width="1.0" fill="#fff"/><circle cx="1018.49" cy="944.2" r="15.6" stroke="#000" stroke-width="1.1" fill="#fff"/><circle cx="1018.49" cy="944.2" r="13.6" stroke="#000" stroke-width="1.1" fill="none"/><line x1="1021.32" y1="947.03" x2="1027.69" y2="953.39" stroke="#000" stroke-width="0.9"/><line x1="1015.66" y1="947.03" x2="1009.3" y2="953.39" stroke="#000" stroke-width="0.9"/><line x1="1015.66" y1="941.37" x2="1009.3" y2="935.01" stroke="#000" stroke-width="0.9"/><line x1="1021.32" y1="941.37" x2="1027.69" y2="935.01" stroke="#000" stroke-width="0.9"/><line x1="1005.49" y1="941.5" x2="1031.49" y2="941.5" stroke="#000" stroke-width="1.0"/><line x1="1005.49" y1="947.1" x2="1031.49" y2="947.1" stroke="#000" stroke-width="1.0"/><rect x="1015.69" y="933.9" width="5.6" height="20.6" rx="2.6" stroke="#000" stroke-width="1.0" fill="#fff"/><line x1="900.5" y1="925.2" x2="900.5" y2="980.5" stroke="#000" stroke-width="1.2"/><line x1="901.02" y1="910.5" x2="901.02" y2="924.3" stroke="#000" stroke-width="1.2"/><line x1="906" y1="910.5" x2="906" y2="980.5" stroke="#000" stroke-width="1.5"/><line x1="908.5" y1="925.2" x2="908.5" y2="965.5" stroke="#000" stroke-width="1.2"/><line x1="944.5" y1="925.2" x2="944.5" y2="965.5" stroke="#000" stroke-width="1.2"/><line x1="949.04" y1="910.5" x2="949.04" y2="924.3" stroke="#000" stroke-width="1.2"/><line x1="949.04" y1="966.3" x2="949.04" y2="980.5" stroke="#000" stroke-width="1.2"/><line x1="953.5" y1="910.5" x2="953.5" y2="926" stroke="#000" stroke-width="1.2"/><line x1="953.5" y1="964.5" x2="953.5" y2="980.5" stroke="#000" stroke-width="1.2"/><line x1="900.91" y1="924.5" x2="953.59" y2="924.5" stroke="#000" stroke-width="1.2"/><line x1="900.21" y1="925.5" x2="944.29" y2="925.5" stroke="#000" stroke-width="1.2"/><line x1="944.29" y1="926" x2="955.1" y2="926" stroke="#000" stroke-width="1.2"/><line x1="944.29" y1="964.5" x2="955.1" y2="964.5" stroke="#000" stroke-width="1.2"/><line x1="900.21" y1="965.5" x2="944.29" y2="965.5" stroke="#000" stroke-width="1.2"/><line x1="900.21" y1="966.5" x2="953.59" y2="966.5" stroke="#000" stroke-width="1.2"/><line x1="902.5" y1="944" x2="902.5" y2="980.5" stroke="#555" stroke-width="1.2"/><line x1="902.63" y1="944" x2="906.27" y2="944" stroke="#000" stroke-width="1.2"/><rect x="955.1" y="914" width="24.26" height="62.2" rx="1.5" stroke="#000" stroke-width="1.2" fill="none"/><line x1="966.5" y1="914" x2="966.5" y2="976.2" stroke="#000" stroke-width="1.1"/><line x1="968.5" y1="914" x2="968.5" y2="976.2" stroke="#000" stroke-width="1.1"/><line x1="974.82" y1="914" x2="974.82" y2="976.2" stroke="#000" stroke-width="1.1"/><line x1="955.1" y1="910.5" x2="955.1" y2="914" stroke="#000" stroke-width="1.1"/><path d="M736.22,991.7 L769.38,991.7 A22.5,22.5 0 0 1 769.38,1036.7 L736.22,1036.7" stroke="#000" stroke-width="1.0" fill="#fff" /><path d="M736.22,993.4 L769.38,993.4 A20.8,20.8 0 0 1 769.38,1035 L736.22,1035" stroke="#000" stroke-width="1.0" fill="none" /><line x1="740.5" y1="993.3" x2="740.5" y2="1035.1" stroke="#000" stroke-width="1"/><path d="M1052.06,991.7 L1018.49,991.7 A22.5,22.5 0 0 0 1018.49,1036.7 L1052.06,1036.7" stroke="#000" stroke-width="1.0" fill="#fff" /><path d="M1052.06,993.4 L1018.49,993.4 A20.8,20.8 0 0 0 1018.49,1035 L1052.06,1035" stroke="#000" stroke-width="1.0" fill="none" /><line x1="1047" y1="993.3" x2="1047" y2="1035.1" stroke="#000" stroke-width="1"/><line x1="734.1" y1="1014.5" x2="804.57" y2="1014.5" stroke="#000" stroke-width="1.2"/><line x1="983.71" y1="1014.5" x2="1053.68" y2="1014.5" stroke="#000" stroke-width="1.2"/><circle cx="769.28" cy="1014.2" r="15.6" stroke="#000" stroke-width="1.1" fill="#fff"/><circle cx="769.28" cy="1014.2" r="13.6" stroke="#000" stroke-width="1.1" fill="none"/><line x1="772.11" y1="1017.03" x2="778.47" y2="1023.39" stroke="#000" stroke-width="0.9"/><line x1="766.45" y1="1017.03" x2="760.09" y2="1023.39" stroke="#000" stroke-width="0.9"/><line x1="766.45" y1="1011.37" x2="760.09" y2="1005.01" stroke="#000" stroke-width="0.9"/><line x1="772.11" y1="1011.37" x2="778.47" y2="1005.01" stroke="#000" stroke-width="0.9"/><line x1="756.28" y1="1011.5" x2="782.28" y2="1011.5" stroke="#000" stroke-width="1.0"/><line x1="756.28" y1="1017.1" x2="782.28" y2="1017.1" stroke="#000" stroke-width="1.0"/><rect x="766.48" y="1003.9" width="5.6" height="20.6" rx="2.6" stroke="#000" stroke-width="1.0" fill="#fff"/><circle cx="1018.49" cy="1014.2" r="15.6" stroke="#000" stroke-width="1.1" fill="#fff"/><circle cx="1018.49" cy="1014.2" r="13.6" stroke="#000" stroke-width="1.1" fill="none"/><line x1="1021.32" y1="1017.03" x2="1027.69" y2="1023.39" stroke="#000" stroke-width="0.9"/><line x1="1015.66" y1="1017.03" x2="1009.3" y2="1023.39" stroke="#000" stroke-width="0.9"/><line x1="1015.66" y1="1011.37" x2="1009.3" y2="1005.01" stroke="#000" stroke-width="0.9"/><line x1="1021.32" y1="1011.37" x2="1027.69" y2="1005.01" stroke="#000" stroke-width="0.9"/><line x1="1005.49" y1="1011.5" x2="1031.49" y2="1011.5" stroke="#000" stroke-width="1.0"/><line x1="1005.49" y1="1017.1" x2="1031.49" y2="1017.1" stroke="#000" stroke-width="1.0"/><rect x="1015.69" y="1003.9" width="5.6" height="20.6" rx="2.6" stroke="#000" stroke-width="1.0" fill="#fff"/><line x1="900.5" y1="995.2" x2="900.5" y2="1050.2" stroke="#000" stroke-width="1.2"/><line x1="901.02" y1="980.5" x2="901.02" y2="994.3" stroke="#000" stroke-width="1.2"/><line x1="906" y1="980.5" x2="906" y2="1050.2" stroke="#000" stroke-width="1.5"/><line x1="908.5" y1="995.2" x2="908.5" y2="1035.5" stroke="#000" stroke-width="1.2"/><line x1="944.5" y1="995.2" x2="944.5" y2="1035.5" stroke="#000" stroke-width="1.2"/><line x1="949.04" y1="980.5" x2="949.04" y2="994.3" stroke="#000" stroke-width="1.2"/><line x1="949.04" y1="1036.3" x2="949.04" y2="1050.2" stroke="#000" stroke-width="1.2"/><line x1="953.5" y1="980.5" x2="953.5" y2="996" stroke="#000" stroke-width="1.2"/><line x1="953.5" y1="1034.5" x2="953.5" y2="1050.2" stroke="#000" stroke-width="1.2"/><line x1="900.91" y1="994.5" x2="953.59" y2="994.5" stroke="#000" stroke-width="1.2"/><line x1="900.21" y1="995.5" x2="944.29" y2="995.5" stroke="#000" stroke-width="1.2"/><line x1="944.29" y1="996" x2="955.1" y2="996" stroke="#000" stroke-width="1.2"/><line x1="944.29" y1="1034.5" x2="955.1" y2="1034.5" stroke="#000" stroke-width="1.2"/><line x1="900.21" y1="1035.5" x2="944.29" y2="1035.5" stroke="#000" stroke-width="1.2"/><line x1="900.21" y1="1036.5" x2="953.59" y2="1036.5" stroke="#000" stroke-width="1.2"/><line x1="902.5" y1="1014" x2="902.5" y2="1050.2" stroke="#555" stroke-width="1.2"/><line x1="902.63" y1="1014" x2="906.27" y2="1014" stroke="#000" stroke-width="1.2"/><rect x="955.1" y="984" width="24.26" height="62.2" rx="1.5" stroke="#000" stroke-width="1.2" fill="none"/><line x1="966.5" y1="984" x2="966.5" y2="1046.2" stroke="#000" stroke-width="1.1"/><line x1="968.5" y1="984" x2="968.5" y2="1046.2" stroke="#000" stroke-width="1.1"/><line x1="974.82" y1="984" x2="974.82" y2="1046.2" stroke="#000" stroke-width="1.1"/><line x1="955.1" y1="980.5" x2="955.1" y2="984" stroke="#000" stroke-width="1.1"/><line x1="733.1" y1="769.5" x2="1073.02" y2="769.5" stroke="#000" stroke-width="2"/><line x1="733.1" y1="1050.2" x2="1100.6" y2="1050.2" stroke="#000" stroke-width="2.2"/><line x1="733.09" y1="769.5" x2="733.09" y2="1050.2" stroke="#000" stroke-width="1.1"/><line x1="735.11" y1="769.5" x2="735.11" y2="1050.2" stroke="#000" stroke-width="1.1"/><line x1="734.1" y1="769.5" x2="734.1" y2="1050.2" stroke="#777" stroke-width="1"/><line x1="734.1" y1="910.5" x2="1102.1" y2="910.5" stroke="#000" stroke-width="2.8"/><line x1="734.1" y1="980.5" x2="1053.68" y2="980.5" stroke="#000" stroke-width="2.8"/><line x1="1053.68" y1="776.2" x2="1053.68" y2="1050.2" stroke="#000" stroke-width="2.8"/><line x1="107" y1="791.4" x2="157" y2="791.4" stroke="#222" stroke-width="1"/><line x1="107" y1="1034.4" x2="157" y2="1034.4" stroke="#222" stroke-width="1"/><line x1="112" y1="791.4" x2="112" y2="1034.4" stroke="#222" stroke-width="1"/><polygon points="112,791.4 115.9,811.9 108.1,811.9" fill="#000" stroke="none" stroke-width="1"/><polygon points="112,1034.4 108.1,1013.9 115.9,1013.9" fill="#000" stroke="none" stroke-width="1"/><text transform="translate(107.5,905.8) rotate(-90)" text-anchor="middle" font-size="21.5" fill="#121230" stroke="#121230" stroke-width="0.3">62,6</text><line x1="681.6" y1="769.5" x2="734" y2="769.5" stroke="#222" stroke-width="1"/><line x1="681.6" y1="1050.2" x2="734" y2="1050.2" stroke="#222" stroke-width="1"/><line x1="686.5" y1="769.5" x2="686.5" y2="1050.2" stroke="#222" stroke-width="1"/><polygon points="686.4,769.5 690.3,790 682.5,790" fill="#000" stroke="none" stroke-width="1"/><polygon points="686.4,1050.2 682.5,1029.7 690.3,1029.7" fill="#000" stroke="none" stroke-width="1"/><text transform="translate(682.7,903) rotate(-90)" text-anchor="middle" font-size="21.5" fill="#121230" stroke="#121230" stroke-width="0.3">71,5</text><text x="149.9" y="1104.5" font-size="25" fill="#000" stroke="#000" stroke-width="0.55" textLength="48.9" lengthAdjust="spacingAndGlyphs">АД12</text><text x="204.5" y="1104.5" font-size="25" fill="#000" stroke="#000" stroke-width="0.55" textLength="39.8" lengthAdjust="spacingAndGlyphs">6-40</text><text x="250" y="1104.5" font-size="25" fill="#000" stroke="#000" stroke-width="0.55" textLength="12.9" lengthAdjust="spacingAndGlyphs">А</text><text x="738.8" y="1103.9" font-size="25" fill="#000" stroke="#000" stroke-width="0.55" textLength="48.3" lengthAdjust="spacingAndGlyphs">АД12</text><text x="792.8" y="1103.9" font-size="25" fill="#000" stroke="#000" stroke-width="0.55" textLength="51.7" lengthAdjust="spacingAndGlyphs">50-63</text><text x="849.1" y="1103.9" font-size="25" fill="#000" stroke="#000" stroke-width="0.55" textLength="13.4" lengthAdjust="spacingAndGlyphs">А</text><text x="91.3" y="1255.2" font-size="28.5" fill="#000" stroke="#000" stroke-width="0.65" textLength="85.9" lengthAdjust="spacingAndGlyphs">Рисунок</text><text x="185.3" y="1255.2" font-size="28.5" fill="#000" stroke="#000" stroke-width="1.4300000000000002" textLength="8.7" lengthAdjust="spacingAndGlyphs">1</text><text x="205.8" y="1255.2" font-size="28.5" fill="#000" stroke="#000" stroke-width="0.65" textLength="13.7" lengthAdjust="spacingAndGlyphs">–</text><text x="228.2" y="1255.2" font-size="28.5" fill="#000" stroke="#000" stroke-width="0.65" textLength="124.9" lengthAdjust="spacingAndGlyphs">Габаритные</text><text x="359" y="1255.2" font-size="28.5" fill="#000" stroke="#000" stroke-width="0.65" textLength="14.4" lengthAdjust="spacingAndGlyphs">и</text><text x="379.9" y="1255.2" font-size="28.5" fill="#000" stroke="#000" stroke-width="0.65" textLength="147.4" lengthAdjust="spacingAndGlyphs">установочные</text><text x="534" y="1255.2" font-size="28.5" fill="#000" stroke="#000" stroke-width="0.65" textLength="94.2" lengthAdjust="spacingAndGlyphs">размеры</text>
</svg>
</body></html>
